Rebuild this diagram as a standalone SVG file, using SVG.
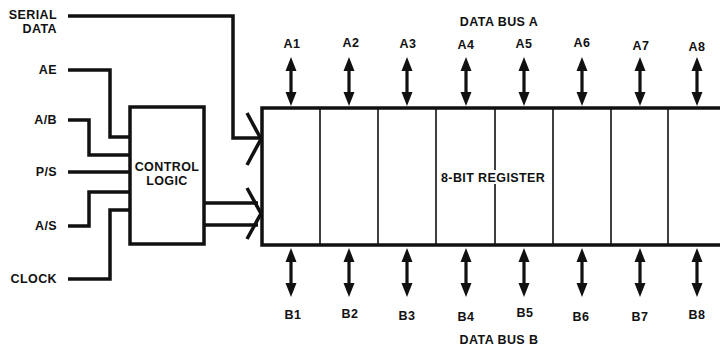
<svg xmlns="http://www.w3.org/2000/svg" width="720" height="350" viewBox="0 0 720 350">
<style>
text{font-family:"Liberation Sans","Arial",sans-serif;font-weight:bold;font-size:12.5px;fill:#111;letter-spacing:0.4px}
.r{text-anchor:end}
.m{text-anchor:middle}
.w{fill:none;stroke:#111;stroke-width:3.5;stroke-linejoin:miter;stroke-linecap:butt}
.box{fill:#fff;stroke:#111;stroke-width:3.5}
.div{stroke:#111;stroke-width:1.6}
</style>
<defs>
<g id="dbl">
<rect x="-1.6" y="12" width="3.2" height="25" fill="#111"/>
<path d="M0,0 L-5.5,14 L5.5,14 Z M0,49 L-5.5,35 L5.5,35 Z" fill="#111"/>
</g>
</defs>

<g id="connectors">
<path class="w" d="M68,16 H233 V138 H259"/>
<path class="w" d="M247,113 L261,139 L247,165"/>
<path class="w" d="M68,70 H110 V137 H130"/>
<path class="w" d="M68,120 H89 V155 H130"/>
<path class="w" d="M68,172 H130"/>
<path class="w" d="M68,226 H89 V192 H130"/>
<path class="w" d="M68,279 H110 V210 H130"/>
<path class="w" d="M204,203 H258 M204,225 H258"/>
<path class="w" d="M247,188 L261,213.5 L247,239"/>
</g>

<g id="serial-data"><text class="r" x="57" y="18.5">SERIAL</text><text class="r" x="57" y="32.5">DATA</text></g>
<g id="ae"><text class="r" x="57" y="74">AE</text></g>
<g id="ab"><text class="r" x="57" y="124">A/B</text></g>
<g id="ps"><text class="r" x="57" y="176">P/S</text></g>
<g id="as"><text class="r" x="57" y="230">A/S</text></g>
<g id="clock"><text class="r" x="57" y="283">CLOCK</text></g>

<g id="control-logic">
<rect class="box" x="130" y="107" width="74" height="137"/>
<text class="m" x="167" y="170.5">CONTROL</text>
<text class="m" x="167" y="184.5">LOGIC</text>
</g>

<g id="register">
<path class="w" d="M722,108 H262 V245 H722" fill="#fff"/>
<path class="div" d="M320,108 V245 M378,108 V245 M436,108 V245 M495,108 V245 M553,108 V245 M611,108 V245 M668,108 V245"/>
<rect x="440" y="170" width="94" height="14" fill="#fff"/>
<text x="441" y="182">8-BIT REGISTER</text>
</g>

<g id="data-bus-a">
<text class="m" x="499" y="26">DATA BUS A</text>
<use href="#dbl" x="291" y="57"/><use href="#dbl" x="349" y="57"/><use href="#dbl" x="407" y="57"/><use href="#dbl" x="466" y="57"/>
<use href="#dbl" x="524" y="57"/><use href="#dbl" x="582" y="57"/><use href="#dbl" x="640" y="57"/><use href="#dbl" x="697" y="57"/>
<text class="m" x="292" y="48">A1</text><text class="m" x="351" y="47">A2</text><text class="m" x="408" y="48">A3</text><text class="m" x="466" y="49">A4</text>
<text class="m" x="524" y="48">A5</text><text class="m" x="582" y="47">A6</text><text class="m" x="641" y="50">A7</text><text class="m" x="697" y="51">A8</text>
</g>

<g id="data-bus-b">
<use href="#dbl" x="291" y="248"/><use href="#dbl" x="349" y="248"/><use href="#dbl" x="407" y="248"/><use href="#dbl" x="466" y="248"/>
<use href="#dbl" x="524" y="248"/><use href="#dbl" x="582" y="248"/><use href="#dbl" x="640" y="248"/><use href="#dbl" x="697" y="248"/>
<text class="m" x="293" y="319">B1</text><text class="m" x="350" y="318">B2</text><text class="m" x="407" y="320">B3</text><text class="m" x="466" y="321">B4</text>
<text class="m" x="525" y="317">B5</text><text class="m" x="581" y="321">B6</text><text class="m" x="640" y="321">B7</text><text class="m" x="697" y="319">B8</text>
<text class="m" x="499" y="344">DATA BUS B</text>
</g>
</svg>
